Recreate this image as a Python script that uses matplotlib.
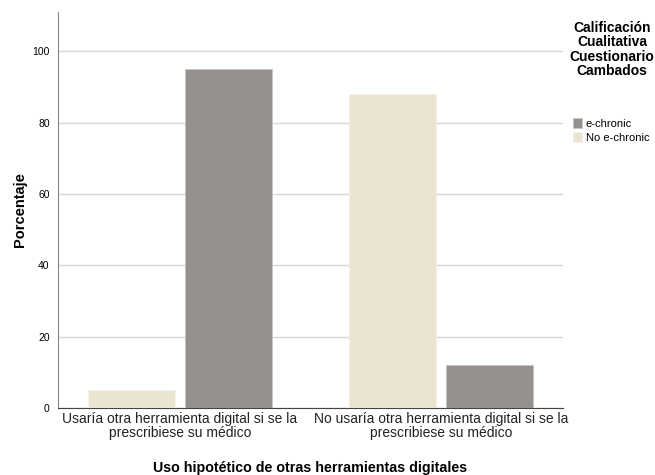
import matplotlib.pyplot as plt
import numpy as np

plt.rcParams['font.family'] = ['Liberation Sans', 'DejaVu Sans']

# datos
grupos = ["Usaría otra herramienta digital si se la\nprescribiese su médico",
          "No usaría otra herramienta digital si se la\nprescribiese su médico"]
series = ["e-chronic", "No e-chronic"]
no_echronic = [5, 88]
echronic = [95, 12]

col_gray = "#958f8e"
col_beige = "#ebe4d0"

fig = plt.figure(figsize=(6.55, 4.75), dpi=100)
ax = fig.add_axes([0.0885, 0.141, 0.771, 0.834])

x = np.arange(len(grupos))
w = 0.333
off = 0.186
b1 = ax.bar(x - off, no_echronic, w, color=col_beige, edgecolor="#f4f1e8", linewidth=0.6, zorder=3)
b2 = ax.bar(x + off, echronic, w, color=col_gray, edgecolor="#c8c4c3", linewidth=0.6, zorder=3)

ax.set_xlim(-0.467, 1.467)
ax.set_ylim(0, 111)
ax.set_yticks([0, 20, 40, 60, 80, 100])
ax.yaxis.grid(True, color="#d6d6d6", linewidth=1.0, zorder=0)
ax.set_xticks(x)
ax.set_xticklabels(grupos, fontsize=10, linespacing=0.95, color="#222222")
ax.tick_params(axis="both", length=0, pad=3)
ax.tick_params(axis="y", labelsize=7.5, pad=6)
for s in ["top", "right"]:
    ax.spines[s].set_visible(False)
ax.spines["left"].set_color("#888888")
ax.spines["bottom"].set_color("#444444")
ax.spines["left"].set_linewidth(0.8)
ax.spines["bottom"].set_linewidth(0.8)

ax.set_ylabel("Porcentaje", fontsize=10.5, fontweight="bold")
ax.yaxis.set_label_coords(-0.061, 0.5)
ax.set_xlabel("Uso hipotético de otras herramientas digitales", fontsize=10.3, fontweight="bold")
ax.xaxis.set_label_coords(0.5, -0.133)

# titulo de la leyenda
fig.text(612 / 655, 1 - 21 / 475, "Calificación\nCualitativa\nCuestionario\nCambados",
         ha="center", va="top", fontsize=10, fontweight="bold", linespacing=1.03)

leg = fig.legend([b2, b1], series,
                 loc="upper left", bbox_to_anchor=(573 / 655, 1 - 118 / 475), frameon=False,
                 fontsize=8, handlelength=0.85, handleheight=1.0, handletextpad=0.3,
                 labelspacing=0.3, borderaxespad=0, borderpad=0)

fig.savefig("out.png", dpi=100)
